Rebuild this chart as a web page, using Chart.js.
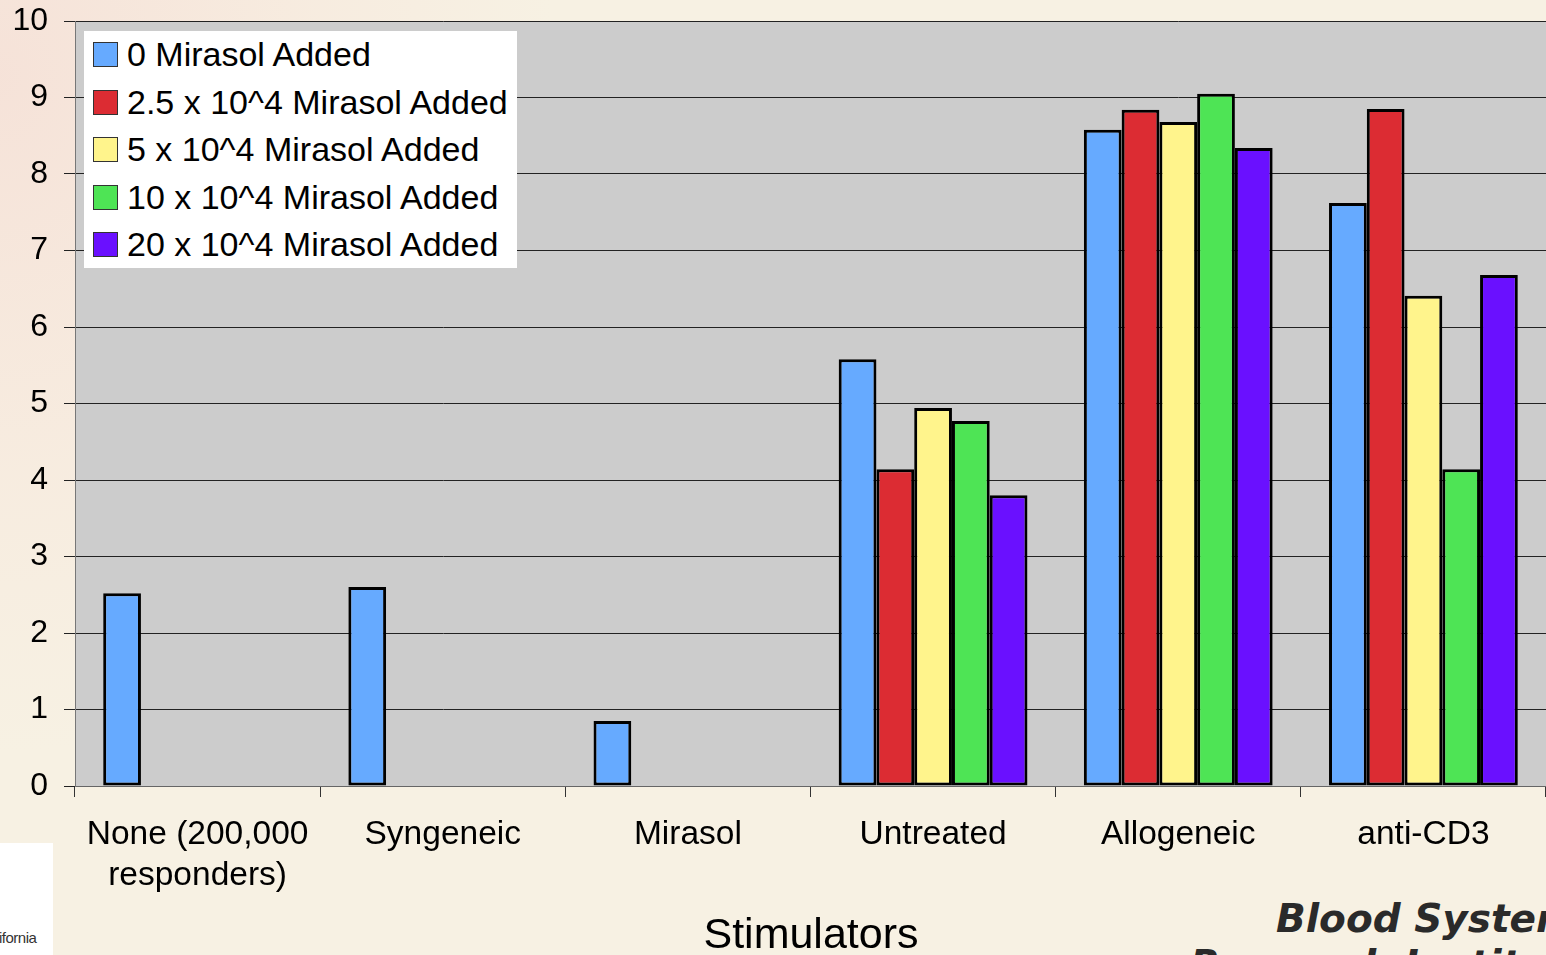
<!DOCTYPE html>
<html>
<head>
<meta charset="utf-8">
<script src="https://cdn.jsdelivr.net/npm/chart.js@4.4.1/dist/chart.umd.min.js"></script>
<style>
    html, body { margin: 0; padding: 0; }
    body {
        width: 1546px; height: 955px; overflow: hidden; position: relative;
        background: #f7f1e3;
        font-family: "Liberation Sans", Arial, sans-serif;
    }
    #deco {
        position: absolute; left: 0; top: 0; width: 560px; height: 760px;
        background: radial-gradient(ellipse at 0% 10%, rgba(245,220,212,0.7) 0%, rgba(247,228,218,0.4) 40%, rgba(247,241,227,0) 70%);
    }
    #wrap { position: absolute; left: 0; top: 0; width: 1546px; height: 955px; }
    #legend {
        position: absolute; left: 84px; top: 31px; width: 433px; height: 237px;
        background: #fff; box-sizing: border-box; padding-top: 0px;
    }
    .item { height: 47.5px; display: flex; align-items: center; font-size: 34px; color: #000; white-space: nowrap; }
    .box { width: 23px; height: 23px; border: 1px solid #333; margin-left: 9px; margin-right: 9px; }
    #xtitle { position: absolute; left: 0; width: 1622px; top: 909px; text-align: center; font-size: 43px; color: #000; }
    #logoL { position: absolute; left: 0; top: 843px; width: 53px; height: 112px; background: #fff; }
    #logoL span { position: absolute; left: -1px; top: 86px; font-size: 15px; color: #333; letter-spacing: -0.5px; }
    #logoR { position: absolute; left: 1276px; top: 896px; font-family: "DejaVu Sans", sans-serif; font-size: 39px; font-weight: bold; font-style: italic; color: #2a2a2a; white-space: nowrap; line-height: 46px; }
    #logoR .l2 { position: relative; left: -86px; }
</style>
</head>
<body>
<div id="deco"></div>
<div id="logoL"><span>ifornia</span></div>
<div id="logoR">Blood Systems<br><span class="l2">Research Institute</span></div>
<div id="wrap"><canvas id="chart" width="1546" height="955"></canvas></div>
<div id="legend"></div>
<div id="xtitle">Stimulators</div>
<script>
const categories = [['None (200,000', 'responders)'], 'Syngeneic', 'Mirasol', 'Untreated', 'Allogeneic', 'anti-CD3'];
const seriesNames = ['0 Mirasol Added', '2.5 x 10^4 Mirasol Added', '5 x 10^4 Mirasol Added', '10 x 10^4 Mirasol Added', '20 x 10^4 Mirasol Added'];
const seriesColors = ['#66aaff', '#dc2c33', '#fff48c', '#4ee455', '#6a10ff'];

const mirasol0 = [2.52, 2.60, 0.85, 5.58, 8.58, 7.62];
const mirasol25 = [null, null, null, 4.14, 8.84, 8.85];
const mirasol5 = [null, null, null, 4.94, 8.68, 6.41];
const mirasol10 = [null, null, null, 4.77, 9.05, 4.14];
const mirasol20 = [null, null, null, 3.80, 8.34, 6.68];

const yTicks = [0, 1, 2, 3, 4, 5, 6, 7, 8, 9, 10];

const allSeries = [mirasol0, mirasol25, mirasol5, mirasol10, mirasol20];

// html legend, built from the same arrays
let legendHtml = '';
seriesNames.forEach((name, i) => {
    legendHtml += `<div class="item"><div class="box" style="background:${seriesColors[i]}"></div>${name}</div>`;
});
document.getElementById('legend').innerHTML = legendHtml;

const plotBg = {
    id: 'plotBg',
    beforeDraw(chart) {
        const { ctx, chartArea } = chart;
        ctx.save();
        ctx.fillStyle = '#cccccc';
        ctx.fillRect(chartArea.left, chartArea.top, chartArea.right - chartArea.left, chartArea.bottom - chartArea.top);
        ctx.restore();
    }
};

const ctx = document.getElementById('chart');

new Chart(ctx, {
    type: 'bar',
    data: {
        labels: categories,
        datasets: allSeries.map((vals, i) => ({
            label: seriesNames[i],
            data: vals,
            backgroundColor: seriesColors[i],
            borderColor: '#000',
            borderWidth: 3,
            borderSkipped: false,
            barPercentage: 1,
            categoryPercentage: 0.77
        }))
    },
    options: {
        responsive: false,
        animation: false,
        layout: { padding: { top: 21, right: 0, bottom: 0, left: 0 } },
        plugins: {
            legend: { display: false },
            tooltip: { enabled: false }
        },
        scales: {
            x: {
                grid: { offset: true, drawOnChartArea: false, drawTicks: true, tickLength: 11, color: '#333', lineWidth: 1 },
                border: { display: true, color: '#666', width: 1 },
                ticks: {
                    color: '#000',
                    font: { family: '"Liberation Sans", Arial, sans-serif', size: 33.5, lineHeight: 1.22 },
                    padding: 17,
                    maxRotation: 0,
                    autoSkip: false
                },
                afterFit(scale) { scale.height = 169; }
            },
            y: {
                min: 0,
                max: 10,
                afterBuildTicks(scale) { scale.ticks = yTicks.map(v => ({ value: v })); },
                grid: { color: '#222', lineWidth: 1, tickLength: 11 },
                border: { display: true, color: '#777', width: 1 },
                ticks: {
                    color: '#000',
                    font: { family: '"Liberation Sans", Arial, sans-serif', size: 32 },
                    padding: 16
                },
                afterFit(scale) {
                    scale.width = 75;
                    scale.paddingTop = 0;
                    scale.paddingBottom = 0;
                }
            }
        }
    },
    plugins: [plotBg]
});
</script>
</body>
</html>
